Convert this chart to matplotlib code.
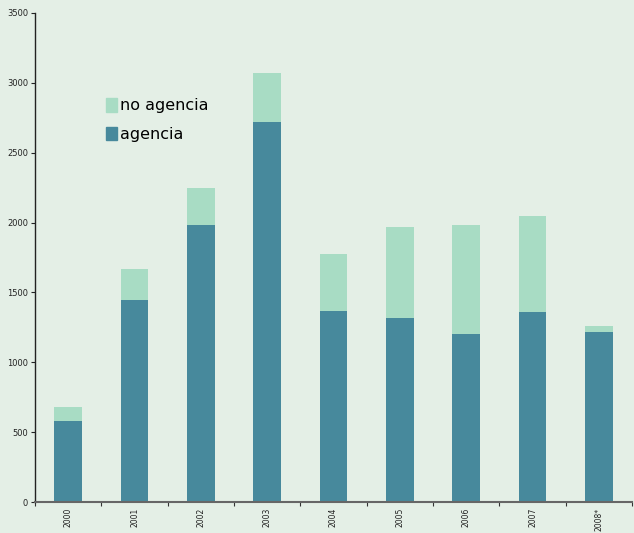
import matplotlib
matplotlib.use("Agg")
import matplotlib.pyplot as plt
import numpy as np
from matplotlib.patches import Patch

years = ["2000", "2001", "2002", "2003", "2004", "2005", "2006", "2007", "2008*"]
agencia = [578, 1446, 1983, 2720, 1367, 1317, 1202, 1360, 1217]
no_agencia = [102, 222, 264, 350, 408, 651, 781, 687, 43]

bg = "#e4efe6"
c_dark = "#47899c"
c_light = "#a8dcc4"

fig = plt.figure(figsize=(6.34, 5.33), dpi=100, facecolor=bg)
ax = fig.add_axes([35/634, 31/533, 597/634, 489/533], facecolor=bg)

x = np.arange(len(years))
ax.bar(x, agencia, width=0.42, color=c_dark, zorder=2)
ax.bar(x, no_agencia, bottom=agencia, width=0.42, color=c_light, zorder=2)

ax.set_xlim(-0.5, len(years) - 0.5)
ax.set_ylim(0, 3500)
ax.set_yticks(np.arange(0, 3501, 500))
ax.tick_params(axis="y", labelsize=6, length=3, width=0.8, pad=2, colors="#222222")
ax.set_xticks(x)
ax.set_xticklabels(years, rotation=90, fontsize=5.5, color="#222222")
ax.tick_params(axis="x", length=0, pad=4)
ax.set_xticks(np.arange(-0.5, len(years)), minor=True)
ax.tick_params(axis="x", which="minor", length=3, width=0.8, color="#333333")

for s in ["top", "right"]:
    ax.spines[s].set_visible(False)
ax.spines["left"].set_color("#222222")
ax.spines["left"].set_linewidth(1.0)
ax.spines["bottom"].set_color("#666666")
ax.spines["bottom"].set_linewidth(1.5)

handles = [Patch(color=c_light, label="no agencia"), Patch(color=c_dark, label="agencia")]
ax.legend(handles=handles, loc="upper left", bbox_to_anchor=(0.095, 0.855), frameon=False,
          fontsize=11.5, handlelength=0.7, handleheight=0.9, handletextpad=0.2,
          labelspacing=0.85)

fig.savefig("out.png", dpi=100, facecolor=bg)
